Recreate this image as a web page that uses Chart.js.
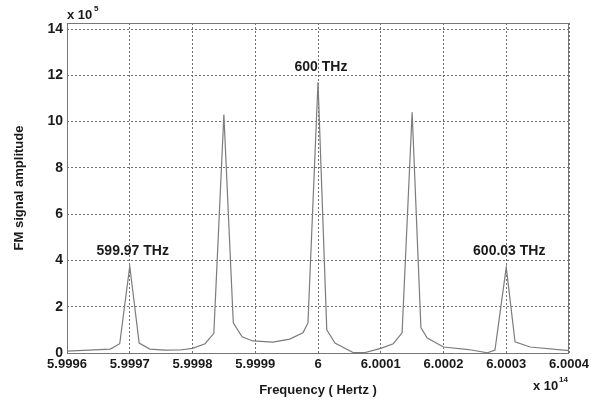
<!DOCTYPE html>
<html>
<head>
<meta charset="utf-8">
<script src="https://cdn.jsdelivr.net/npm/chart.js@4/dist/chart.umd.min.js"></script>
<style>
  body { margin: 0; background: #fff; }
  canvas { display: block; }
</style>
</head>
<body>
<canvas id="myChart" width="595" height="402"></canvas>
<script>
// frecuencia en unidades de 1e14 Hz, amplitud en unidades de 1e5
var frecuencias = [5.99960, 5.999669, 5.999684, 5.99970, 5.999715, 5.999732, 5.999756, 5.99978,
  5.99980, 5.99982, 5.999834, 5.99985, 5.999865, 5.999879, 5.999896, 5.999928, 5.999955,
  5.999976, 5.999984, 6.00000, 6.000014, 6.000027, 6.000056, 6.000075, 6.00010, 6.00012,
  6.000134, 6.00015, 6.000164, 6.000174, 6.00020, 6.00024, 6.00027, 6.000282, 6.00030,
  6.000314, 6.000338, 6.00040];
var amplitudes = [0.08, 0.17, 0.4, 3.75, 0.43, 0.17, 0.12, 0.13,
  0.2, 0.4, 0.85, 10.3, 1.3, 0.7, 0.52, 0.47, 0.6,
  0.87, 1.3, 11.7, 1.0, 0.43, 0.02, 0.02, 0.2, 0.4,
  0.87, 10.4, 1.1, 0.65, 0.26, 0.15, 0.01, 0.13, 3.7,
  0.48, 0.26, 0.1];

var xTicks = [5.9996, 5.9997, 5.9998, 5.9999, 6.0, 6.0001, 6.0002, 6.0003, 6.0004];
var yTicks = [0, 2, 4, 6, 8, 10, 12, 14];

var picosX = [5.9997, 6.0, 6.0003];
var picosY = [4.25, 12.2, 4.25];
var picosTexto = ["599.97 THz", "600 THz", "600.03 THz"];

var fuente = "'Liberation Sans', Arial, sans-serif";
var colorTexto = "#1a1a1a";

var puntos = frecuencias.map(function (f, i) { return { x: f, y: amplitudes[i] }; });

// caja, etiquetas de los picos y exponentes
var extras = {
  id: "extras",
  afterDraw: function (chart) {
    var ctx = chart.ctx;
    var a = chart.chartArea;
    var sx = chart.scales.x, sy = chart.scales.y;
    ctx.save();
    ctx.strokeStyle = "#777";
    ctx.lineWidth = 1;
    ctx.strokeRect(a.left + 0.5, a.top + 0.5, a.right - a.left - 1, a.bottom - a.top);

    ctx.fillStyle = colorTexto;
    ctx.textAlign = "center";
    ctx.textBaseline = "alphabetic";
    ctx.font = "bold 14px " + fuente;
    for (var i = 0; i < picosX.length; i++) {
      ctx.fillText(picosTexto[i], sx.getPixelForValue(picosX[i]) + 3, sy.getPixelForValue(picosY[i]));
    }

    ctx.textAlign = "left";
    ctx.font = "bold 13px " + fuente;
    ctx.fillText("x 10", a.left, a.top - 4);
    ctx.fillText("x 10", a.right - 36, 390);
    ctx.font = "bold 8px " + fuente;
    ctx.fillText("5", a.left + 27, a.top - 12);
    ctx.fillText("14", a.right - 10, 382);
    ctx.restore();
  }
};

new Chart("myChart", {
  type: "line",
  data: {
    datasets: [{
      data: puntos,
      borderColor: "#7c7c7c",
      borderWidth: 1.2,
      pointRadius: 0,
      tension: 0,
      fill: false
    }]
  },
  options: {
    responsive: false,
    animation: false,
    layout: { padding: { top: 23, right: 26, left: 0, bottom: 0 } },
    plugins: { legend: { display: false }, tooltip: { enabled: false } },
    scales: {
      x: {
        type: "linear",
        min: 5.9996,
        max: 6.0004,
        afterBuildTicks: function (s) { s.ticks = xTicks.map(function (v) { return { value: v }; }); },
        afterFit: function (s) { s.height = 49; },
        grid: { color: "#6e6e6e", borderDash: [2, 2], drawTicks: false, lineWidth: 1 },
        border: { display: false, dash: [2, 2] },
        ticks: {
          color: colorTexto,
          padding: 4,
          maxRotation: 0,
          font: { family: fuente, size: 13, weight: "bold" },
          callback: function (v) { return String(Number(v.toFixed(4))); }
        },
        title: {
          display: true,
          text: "Frequency ( Hertz )",
          color: colorTexto,
          font: { family: fuente, size: 13, weight: "bold" },
          padding: { top: 0, bottom: 4 }
        }
      },
      y: {
        min: 0,
        max: 14.26,
        afterBuildTicks: function (s) { s.ticks = yTicks.map(function (v) { return { value: v }; }); },
        afterFit: function (s) { s.width = 67; },
        grid: { color: "#6e6e6e", drawTicks: false, lineWidth: 1 },
        border: { display: false, dash: [2, 2] },
        ticks: {
          color: colorTexto,
          padding: 4,
          font: { family: fuente, size: 14, weight: "bold" }
        },
        title: {
          display: true,
          text: "FM signal amplitude",
          color: colorTexto,
          font: { family: fuente, size: 13, weight: "bold" },
          padding: { top: 12, bottom: 0 }
        }
      }
    }
  },
  plugins: [extras]
});
</script>
</body>
</html>
